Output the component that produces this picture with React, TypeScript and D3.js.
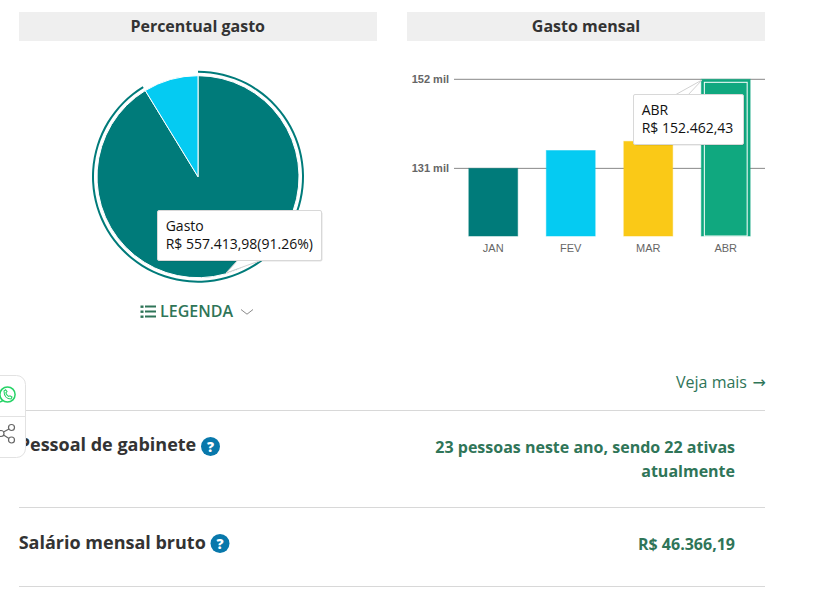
import React from "react";
import * as d3 from "d3";

const pieNames = ["Gasto", "Restante"];
const pieValues = [557413.98, 53383.2];
const pieColors = ["#007b7a", "#05cbf2"];
const months = ["JAN", "FEV", "MAR", "ABR"];
const monthValues = [131000, 135300, 137500, 152462.43];
const barColors = ["#007b7a", "#05cbf2", "#fac917", "#10a87f"];
const barTicks = [131000, 152462.43];
const barTickLabels = ["131 mil", "152 mil"];

const OPEN = "'Open Sans', sans-serif";
const ARIAL = "'Liberation Sans', Arial, sans-serif";
const GREEN = "#2f7558";

const cx = 198, cy = 176.7, pieR = 101, ringR = 105;

function Tooltip({ x, y, w, h, lines, arrow }: { x: number; y: number; w: number; h: number; lines: string[]; arrow: string }) {
  return (
    <g>
      <rect x={x + 1} y={y + 1} width={w} height={h} fill="#000" opacity={0.12} rx={2} />
      <path d={arrow} fill="#fff" stroke="#d2d2d2" strokeWidth={1} />
      <rect x={x} y={y} width={w} height={h} fill="#fff" stroke="#d8d8d8" rx={1.5} />
      {lines.map((l, i) => (
        <text key={l} x={x + 8.2} y={y + 20.3 + i * 18} fontFamily={OPEN} fontSize={14} fill="#111">{l}</text>
      ))}
    </g>
  );
}

export default function App() {
  const pie = d3.pie<number>().sort(null).startAngle(0).endAngle(2 * Math.PI)(pieValues);
  const arc = d3.arc<any>().innerRadius(0).outerRadius(pieR);
  const ring = d3.arc<any>().innerRadius(ringR - 1).outerRadius(ringR + 1);

  const x = d3.scaleBand<string>().domain(months).range([454.5, 764.5]).paddingInner(0.37).paddingOuter(0.185);
  const y = d3.scaleLinear().domain([114700, 152462.43]).range([236, 79.3]);

  return (
    <svg width={814} height={591} style={{ position: "absolute", left: 0, top: 0, display: "block", background: "#fff" }}>
      {/* headers */}
      <rect x={19} y={12} width={358} height={29} fill="#efefef" />
      <rect x={407} y={12} width={358} height={29} fill="#efefef" />
      <text x={197.7} y={31.5} textAnchor="middle" fontFamily={OPEN} fontWeight={700} fontSize={16} fill="#333">Percentual gasto</text>
      <text x={586} y={31.5} textAnchor="middle" fontFamily={OPEN} fontWeight={700} fontSize={16} fill="#333">Gasto mensal</text>

      {/* pie */}
      <g transform={`translate(${cx},${cy})`}>
        {pie.map((d, i) => (
          <path key={i} d={arc(d) as string} fill={pieColors[i]} stroke="#fff" strokeWidth={1} strokeLinejoin="round" />
        ))}
        <path d={ring(pie[0]) as string} fill={pieColors[0]} />
      </g>

      {/* legend toggle */}
      <g fill={GREEN}>
        {[0, 1, 2].map((i) => (
          <g key={i}>
            <rect x={140.5} y={305.5 + i * 5} width={3} height={2.4} />
            <rect x={145} y={305.5 + i * 5} width={11} height={2} />
          </g>
        ))}
      </g>
      <text x={160} y={317} fontFamily={OPEN} fontWeight={600} fontSize={16} fill={GREEN}>LEGENDA</text>
      <path d="M241 309.5 L247 314.2 L253 309.5" fill="none" stroke="#8a8a8a" strokeWidth={1} />

      {/* bar chart grid */}
      {barTicks.map((t, i) => (
        <g key={t}>
          <line x1={454} x2={765} y1={y(t)} y2={y(t)} stroke="#888" strokeWidth={1} />
          <text x={449} y={y(t) + 3.5} textAnchor="end" fontFamily={ARIAL} fontWeight={700} fontSize={11} fill="#666">{barTickLabels[i]}</text>
        </g>
      ))}
      {months.map((m, i) => {
        const bx = x(m)!, bw = x.bandwidth(), top = y(monthValues[i]);
        const highlighted = i === 3;
        return (
          <g key={m}>
            <rect x={bx} y={top} width={bw} height={236 - top} fill={barColors[i]} stroke={barColors[i]} strokeOpacity={0.5} strokeWidth={1} />
            {highlighted && (
              <rect x={bx + 3} y={top + 3} width={bw - 6} height={236 - top - 3} fill="none" stroke="#fff" strokeWidth={1} />
            )}
            <text x={bx + bw / 2} y={252} textAnchor="middle" fontFamily={ARIAL} fontSize={11} fill="#666">{m}</text>
          </g>
        );
      })}

      {/* tooltips */}
      <Tooltip x={157.5} y={210.5} w={164} h={50} lines={["Gasto", "R$ 557.413,98(91.26%)"]} arrow="M238 260 L262 260 L226 273 Z" />
      <Tooltip x={633.5} y={94.5} w={110} h={50} lines={["ABR", "R$ 152.462,43"]} arrow="M675 95 L702 80 L688 95 Z" />

      {/* lower section */}
      <text x={747} y={388} textAnchor="end" fontFamily={OPEN} fontSize={16} fill={GREEN}>Veja mais</text>
      <text x={766} y={388} textAnchor="end" fontFamily="'DejaVu Sans', sans-serif" fontSize={16} fill={GREEN}>→</text>
      <line x1={19} x2={765} y1={410.5} y2={410.5} stroke="#d8d8d8" />
      <line x1={19} x2={765} y1={507.5} y2={507.5} stroke="#d8d8d8" />
      <line x1={19} x2={765} y1={586.5} y2={586.5} stroke="#d8d8d8" />

      <text x={18.7} y={451} fontFamily={OPEN} fontWeight={700} fontSize={18} fill="#333">Pessoal de gabinete</text>
      <circle cx={210.5} cy={446.5} r={9.5} fill="#0878ab" />
      <text x={210.5} y={451.7} textAnchor="middle" fontFamily={OPEN} fontWeight={800} fontSize={14} fill="#fff">?</text>

      <text x={18.7} y={548.6} fontFamily={OPEN} fontWeight={700} fontSize={18} fill="#333">Salário mensal bruto</text>
      <circle cx={220} cy={543.5} r={9.5} fill="#0878ab" />
      <text x={220} y={548.7} textAnchor="middle" fontFamily={OPEN} fontWeight={800} fontSize={14} fill="#fff">?</text>

      <text x={735} y={453} textAnchor="end" fontFamily={OPEN} fontWeight={700} fontSize={16} fill={GREEN}>23 pessoas neste ano, sendo 22 ativas</text>
      <text x={735} y={477} textAnchor="end" fontFamily={OPEN} fontWeight={700} fontSize={16} fill={GREEN}>atualmente</text>
      <text x={735} y={550} textAnchor="end" fontFamily={OPEN} fontWeight={700} fontSize={16} fill={GREEN}>R$ 46.366,19</text>

      {/* floating share widget */}
      <rect x={-20} y={375.5} width={45.5} height={82} rx={9} fill="#fff" stroke="#e2e2e2" />
      <line x1={0} x2={25} y1={416.5} y2={416.5} stroke="#e2e2e2" />
      <circle cx={7.5} cy={394.5} r={7.6} fill="none" stroke="#25d366" strokeWidth={1.5} />
      <path d="M0 402 L3 400.5" fill="none" stroke="#25d366" strokeWidth={1.5} />
      <path d="M4 391 C4 396 7 399 11 399 L12 397 L10 395.8 L8.5 396.4 C7 395.4 6.3 394.4 5.8 392.8 L7 391.5 L5.6 389.7 Z" fill="none" stroke="#25d366" strokeWidth={1.1} />
      <g fill="none" stroke="#666" strokeWidth={1.2}>
        <circle cx={11.5} cy={427.5} r={3} />
        <circle cx={11.5} cy={440} r={3} />
        <circle cx={1} cy={433.5} r={3} />
        <path d="M3.5 432 L9 429 M3.5 435 L9 438.5" />
      </g>
    </svg>
  );
}
